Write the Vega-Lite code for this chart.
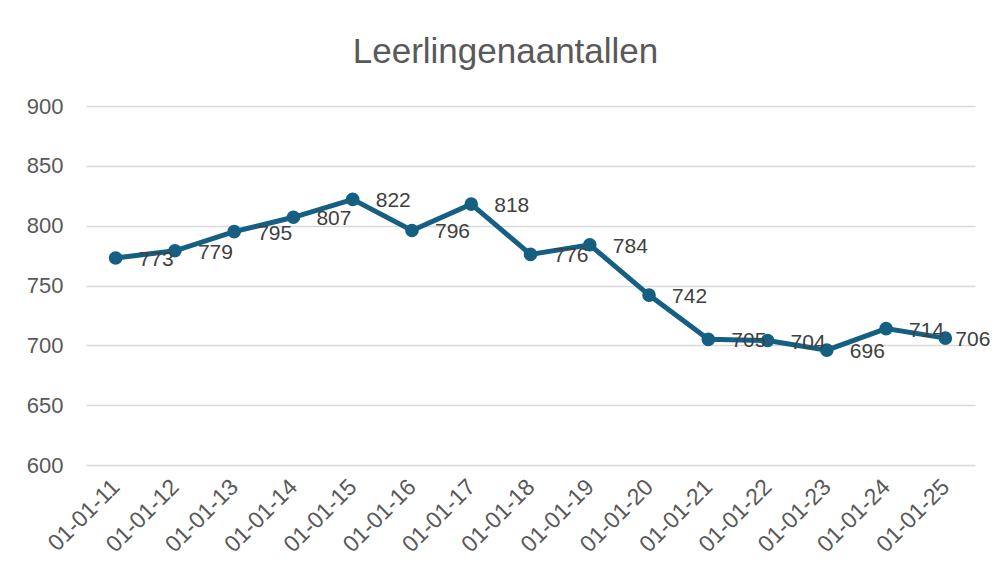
{
  "$schema": "https://vega.github.io/schema/vega-lite/v6.json",
  "autosize": "none",
  "width": 889,
  "height": 359,
  "padding": {"left": 86, "top": 106, "right": 25, "bottom": 114},
  "background": "white",
  "title": {
    "text": "Leerlingenaantallen",
    "fontSize": 35,
    "font": "Liberation Sans",
    "fontWeight": "normal",
    "color": "#595959",
    "anchor": "middle",
    "dx": -25,
    "offset": 25
  },
  "data": {
    "values": [
      {"datum": "01-01-11", "aantal": 773},
      {"datum": "01-01-12", "aantal": 779},
      {"datum": "01-01-13", "aantal": 795},
      {"datum": "01-01-14", "aantal": 807},
      {"datum": "01-01-15", "aantal": 822},
      {"datum": "01-01-16", "aantal": 796},
      {"datum": "01-01-17", "aantal": 818},
      {"datum": "01-01-18", "aantal": 776},
      {"datum": "01-01-19", "aantal": 784},
      {"datum": "01-01-20", "aantal": 742},
      {"datum": "01-01-21", "aantal": 705},
      {"datum": "01-01-22", "aantal": 704},
      {"datum": "01-01-23", "aantal": 696},
      {"datum": "01-01-24", "aantal": 714},
      {"datum": "01-01-25", "aantal": 706}
    ]
  },
  "encoding": {
    "x": {
      "field": "datum",
      "type": "ordinal",
      "sort": null,
      "scale": {"type": "point", "padding": 0.5},
      "axis": {
        "title": null,
        "labelAngle": -45,
        "labelAlign": "right",
        "labelBaseline": "middle",
        "labelFontSize": 23,
        "labelFont": "Liberation Sans",
        "labelColor": "#595959",
        "labelPadding": 18,
        "ticks": false,
        "domain": false,
        "grid": false
      }
    },
    "y": {
      "field": "aantal",
      "type": "quantitative",
      "scale": {"domain": [600, 900], "nice": false, "zero": false},
      "axis": {
        "title": null,
        "values": [600, 650, 700, 750, 800, 850, 900],
        "labelFontSize": 22,
        "labelFont": "Liberation Sans",
        "labelColor": "#595959",
        "labelPadding": 23,
        "ticks": false,
        "domain": false,
        "grid": true,
        "gridColor": "#d9d9d9",
        "gridWidth": 1.5
      }
    }
  },
  "layer": [
    {
      "mark": {"type": "line", "color": "#156082", "strokeWidth": 5, "point": {"filled": true, "size": 185, "color": "#156082", "opacity": 1}}
    },
    {
      "transform": [{"filter": "datum.datum != '01-01-25'"}],
      "mark": {"type": "text", "align": "left", "baseline": "middle", "dx": 23, "dy": 2, "fontSize": 21, "font": "Liberation Sans", "color": "#404040"},
      "encoding": {"text": {"field": "aantal", "type": "quantitative"}}
    },
    {
      "transform": [{"filter": "datum.datum == '01-01-25'"}],
      "mark": {"type": "text", "align": "left", "baseline": "middle", "dx": 10, "dy": 2, "fontSize": 21, "font": "Liberation Sans", "color": "#404040"},
      "encoding": {"text": {"field": "aantal", "type": "quantitative"}}
    }
  ],
  "config": {"view": {"stroke": null}}
}
